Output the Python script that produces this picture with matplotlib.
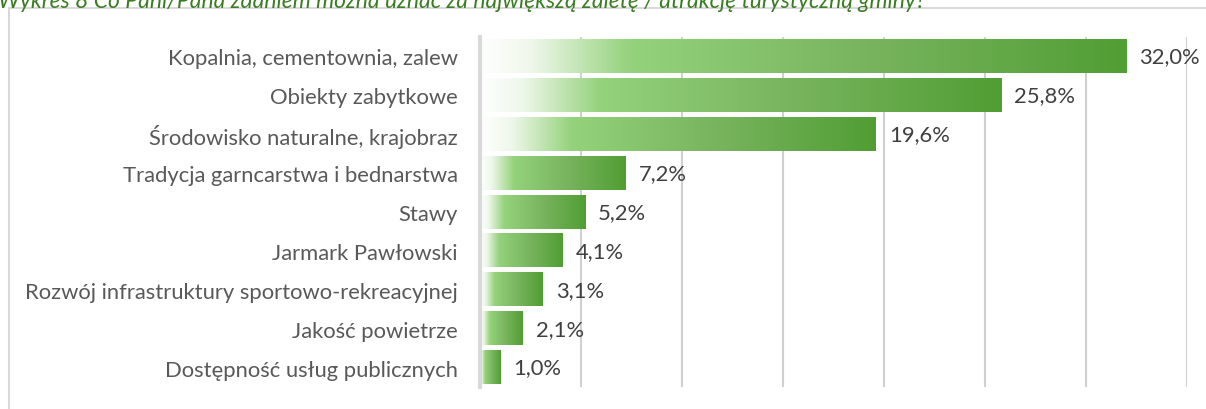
import matplotlib
matplotlib.use("Agg")
import matplotlib.pyplot as plt
import numpy as np
from matplotlib.colors import LinearSegmentedColormap
from matplotlib.patches import Rectangle

categories = [
    "Kopalnia, cementownia, zalew",
    "Obiekty zabytkowe",
    "Środowisko naturalne, krajobraz",
    "Tradycja garncarstwa i bednarstwa",
    "Stawy",
    "Jarmark Pawłowski",
    "Rozwój infrastruktury sportowo-rekreacyjnej",
    "Jakość powietrze",
    "Dostępność usług publicznych",
]
values = [32.0, 25.8, 19.6, 7.2, 5.2, 4.1, 3.1, 2.1, 1.0]
value_labels = ["32,0%", "25,8%", "19,6%", "7,2%", "5,2%", "4,1%", "3,1%", "2,1%", "1,0%"]
title = "Wykres 8 Co Pani/Pana zdaniem można uznać za największą zaletę / atrakcję turystyczną gminy?"

plt.rcParams['font.family'] = ['Lato', 'DejaVu Sans']

fig = plt.figure(figsize=(12.06, 4.10), dpi=100)
ax = fig.add_axes([480/1206, 22/410, 707/1206, 350/410])

cmap = LinearSegmentedColormap.from_list(
    "g", [(0.0, "#ffffff"), (0.08, "#eef7ea"), (0.23, "#95d27c"), (0.6, "#78b45e"), (1.0, "#519e34")])

ypos = np.arange(len(categories))
h = 0.85
bars = ax.barh(ypos, values, height=h, color="none", zorder=3)
grad = np.linspace(0, 1, 256).reshape(1, -1)
for b in bars:
    x0, y0, w, hh = b.get_x(), b.get_y(), b.get_width(), b.get_height()
    ax.imshow(grad, cmap=cmap, aspect="auto", extent=(x0, x0 + w, y0 + hh, y0),
              zorder=3, interpolation="bicubic")

for y, v, lab in zip(ypos, values, value_labels):
    ax.text(v + 0.65, y, lab, va="center", ha="left", fontsize=15.8, color="#404040", zorder=4)

ax.set_xlim(0, 35)
ax.set_ylim(len(categories) - 0.5, -0.5)
ax.set_xticks(np.arange(0, 36, 5))
ax.xaxis.grid(True, color="#d0d0d0", lw=1.5, zorder=0)
ax.tick_params(axis="x", length=0, labelbottom=False)
ax.set_yticks(ypos)
ax.set_yticklabels(categories, fontsize=15.8, color="#595959")
ax.tick_params(axis="y", length=0, pad=16)
for s in ["top", "right", "bottom"]:
    ax.spines[s].set_visible(False)
ax.spines["left"].set_color("#d9d9d9")
ax.spines["left"].set_linewidth(3)
ax.spines["left"].set_zorder(5)

# outer frame
fig.patches.append(Rectangle((9/1206, -0.1), 1.2, (410 - 9)/410 + 0.1, transform=fig.transFigure,
                             fill=False, edgecolor="#d9d9d9", lw=1.5))
fig.text(-0.002, 1.0 + 9/410, title, fontsize=16.5, style="italic", color="#3b7d23",
         ha="left", va="top")

fig.savefig("out.png", dpi=100)
